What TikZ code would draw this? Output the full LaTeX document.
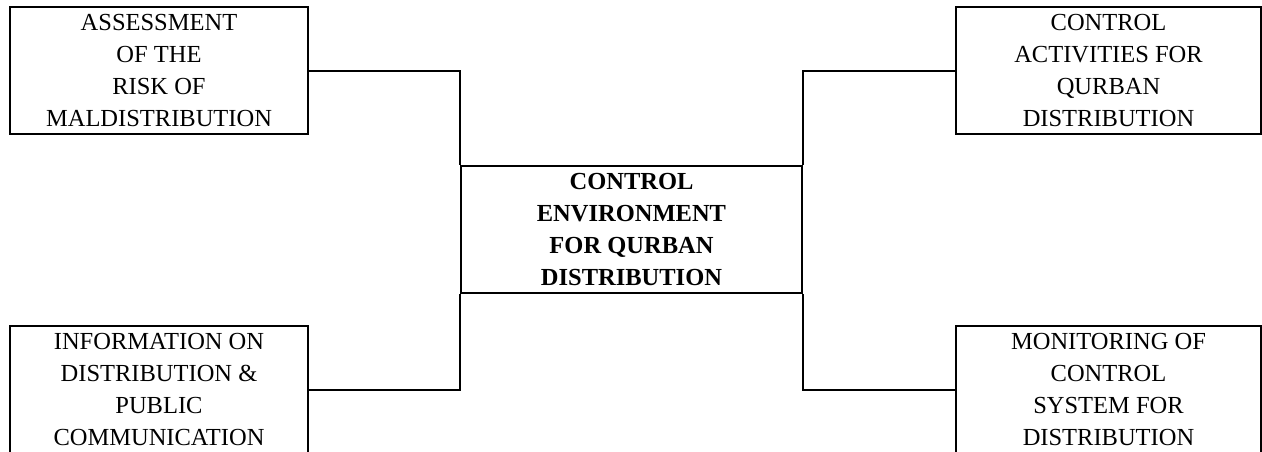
\documentclass[tikz,border=0pt]{standalone}
\usepackage{fontspec}
\setmainfont{Liberation Serif}
\usepackage{tikz}
\tikzset{>=stealth}
\tikzset{
  compbox/.style={draw, line width=2pt, align=center, inner sep=0pt,
    font=\fontsize{24.5}{32}\selectfont, minimum height=127pt},
  wire/.style={draw, line width=2pt},
}

\begin{document}
\begin{tikzpicture}[x=1pt, y=1pt]
      \useasboundingbox (0,0) rectangle (1262,452);
      \clip (0,0) rectangle (1262,452);
      % the five components
      \node[compbox, minimum width=298pt] (risk) at (159,381) {ASSESSMENT\\OF THE\\RISK OF\\MALDISTRIBUTION};
      \node[compbox, minimum width=305pt] (activity) at (1108.5,381) {CONTROL\\ACTIVITIES FOR\\QURBAN\\DISTRIBUTION};
      \node[compbox, minimum width=341pt, font=\fontsize{24.5}{32}\selectfont\bfseries] (envir) at (631.5,222) {CONTROL\\ENVIRONMENT\\FOR QURBAN\\DISTRIBUTION};
      \node[compbox, minimum width=298pt] (info) at (159,62) {INFORMATION ON\\DISTRIBUTION \&\\PUBLIC\\COMMUNICATION};
      \node[compbox, minimum width=305pt] (monitor) at (1108.5,62) {MONITORING OF\\CONTROL\\SYSTEM FOR\\DISTRIBUTION};
      % links to the environment
      \draw[wire] (risk.east) -| (envir.north west) ;
      \draw[wire] (info.east) -| (envir.south west) ;
      \draw[wire] (activity.west) -| (envir.north east) ;
      \draw[wire] (monitor.west) -| (envir.south east) ;
    \end{tikzpicture}
\end{document}
